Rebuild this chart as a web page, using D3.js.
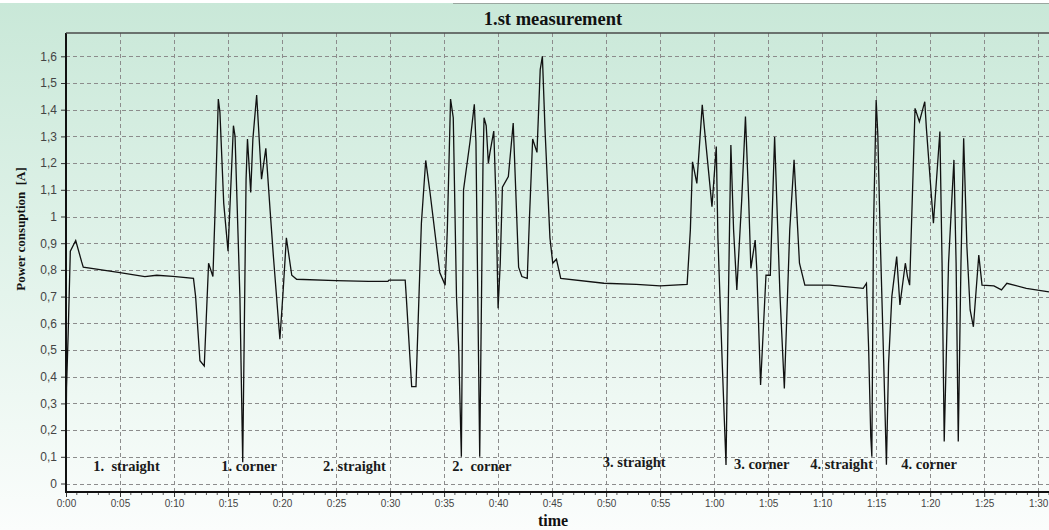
<!DOCTYPE html>
<html>
<head>
<meta charset="utf-8">
<script src="https://cdn.jsdelivr.net/npm/d3@7"></script>
<style>
  body { margin: 0; background: #fff; }
  svg { display: block; }
</style>
</head>
<body>
<svg id="chart"></svg>
<script>
// ------ Data (time in seconds, current in A)
var timeSec = [0, 0.05, 0.2, 0.4, 0.9, 1.45, 1.6, 5.0, 7.3, 8.4, 9.9, 11.8, 12.0, 12.4, 12.8, 13.2, 13.6, 13.8, 14.1, 14.25,
	14.6, 15.0, 15.5, 15.65, 16.1, 16.36, 16.67, 16.8, 17.1, 17.3, 17.65, 18.1, 18.5, 18.9, 19.2, 19.8, 20.1, 20.4, 20.9, 21.35,
	25, 28, 29.8, 29.9, 31.4, 31.5, 32.0, 32.4, 32.9, 33.3, 33.7, 34.6, 35.1, 35.3, 35.6, 35.85, 36.15, 36.35, 36.6, 36.8,
	37.4, 37.8, 37.95, 38.3, 38.6, 38.7, 38.9, 39.1, 39.25, 39.6, 39.8, 40.0, 40.2, 40.4, 40.95, 41.4, 41.9, 42.2, 42.7, 42.9,
	43.2, 43.6, 43.9, 44.1, 44.35, 44.8, 45.06, 45.4, 45.8, 49.8, 52.8, 55.0, 57.5, 57.8, 58.0, 58.4, 58.9, 59.1, 59.8, 60.2,
	60.35, 60.75, 61.1, 61.3, 61.55, 61.8, 62.1, 62.55, 62.9, 63.2, 63.4, 63.8, 63.95, 64.3, 64.8, 65.2, 65.6, 66.1, 66.5, 67.0,
	67.4, 67.9, 68.4, 70.7, 73.8, 74.1, 74.3, 74.5, 74.6, 74.75, 75.0, 75.15, 75.4, 75.7, 75.95, 76.15, 76.45, 76.9, 77.2, 77.7,
	77.9, 78.1, 78.6, 79.0, 79.5, 79.65, 80.3, 80.9, 81.1, 81.3, 81.7, 82.0, 82.2, 82.4, 82.6, 82.85, 83.1, 83.4, 83.7, 84.0,
	84.5, 84.8, 85.9, 86.6, 87.1, 88.9, 91.0];
var powerA = [0.15, 0.36, 0.56, 0.87, 0.91, 0.83, 0.81, 0.79, 0.775, 0.78, 0.776, 0.768, 0.70, 0.46, 0.44, 0.825, 0.775, 1.02, 1.44, 1.39,
	1.05, 0.87, 1.34, 1.30, 0.70, 0.08, 1.14, 1.29, 1.09, 1.29, 1.455, 1.14, 1.255, 1.02, 0.85, 0.54, 0.72, 0.92, 0.78, 0.765,
	0.76, 0.757, 0.757, 0.762, 0.762, 0.70, 0.363, 0.363, 0.975, 1.21, 1.09, 0.79, 0.743, 0.95, 1.44, 1.37, 0.70, 0.51, 0.10, 1.10,
	1.28, 1.42, 1.28, 0.10, 1.19, 1.37, 1.34, 1.20, 1.24, 1.32, 1.07, 0.656, 0.825, 1.11, 1.15, 1.35, 0.81, 0.775, 0.768, 0.99,
	1.29, 1.24, 1.55, 1.60, 1.32, 0.92, 0.825, 0.84, 0.768, 0.75, 0.746, 0.74, 0.746, 0.95, 1.205, 1.124, 1.418, 1.33, 1.037, 1.262,
	0.92, 0.45, 0.069, 0.64, 1.268, 0.95, 0.725, 1.06, 1.374, 1.06, 0.806, 0.912, 0.80, 0.369, 0.78, 0.78, 1.299, 0.70, 0.356, 0.95,
	1.212, 0.825, 0.743, 0.743, 0.731, 0.75, 0.51, 0.175, 0.10, 0.95, 1.436, 1.31, 0.887, 0.45, 0.07, 0.45, 0.70, 0.85, 0.669, 0.825,
	0.775, 0.743, 1.405, 1.355, 1.43, 1.33, 0.975, 1.318, 0.825, 0.157, 0.825, 1.06, 1.212, 0.825, 0.157, 0.825, 1.293, 0.887, 0.65, 0.587,
	0.856, 0.743, 0.74, 0.725, 0.75, 0.731, 0.718];

// ------ Section labels written in the plot
var sectionLabels = ["1.  straight", "1. corner", "2. straight", "2.  corner", "3. straight", "3. corner", "4. straight", "4. corner"];
var sectionTimes  = [5.6, 16.95, 26.7, 38.5, 52.6, 64.4, 71.8, 79.9];
var sectionValues = [0.045, 0.045, 0.045, 0.045, 0.06, 0.055, 0.055, 0.055];

// ------ Ticks
var xTickValues = d3.range(0, 91, 5);
var xMinorValues = d3.range(0, 92, 1);
var yTickValues = d3.range(0, 17).map(d => d / 10);

// ------ Sizes
var width = 1049, height = 530;
var margin = {top: 33, right: 0, bottom: 38, left: 66};

var svg = d3.select("#chart").attr("width", width).attr("height", height);

// ------ Background gradient
var defs = svg.append("defs");
var grad = defs.append("linearGradient").attr("id", "bg")
	.attr("x1", 0).attr("y1", 0).attr("x2", 0).attr("y2", 1);
grad.append("stop").attr("offset", "0%").attr("stop-color", "#c9e8d8");
grad.append("stop").attr("offset", "55%").attr("stop-color", "#e4f4ec");
grad.append("stop").attr("offset", "100%").attr("stop-color", "#fbfdfc");

svg.append("rect").attr("x", 0).attr("y", 3).attr("width", width).attr("height", height - 3)
	.style("fill", "url(#bg)");

// title band line
svg.append("line").attr("x1", 453).attr("x2", width).attr("y1", 3.5).attr("y2", 3.5)
	.style("stroke", "#9aa7a0").style("stroke-width", 1);

// ------ Scales
var xScale = d3.scaleLinear().domain([0, 91]).range([margin.left, width - margin.right]);
var yScale = d3.scaleLinear().domain([0, 1.6]).range([483.5, 56.3]);
var plotBottom = height - margin.bottom;

// ------ Grid
svg.append("g").attr("class", "grid")
	.selectAll("line.h").data(yTickValues).enter().append("line")
	.attr("x1", margin.left).attr("x2", width)
	.attr("y1", d => Math.round(yScale(d)) + 0.5).attr("y2", d => Math.round(yScale(d)) + 0.5)
	.style("stroke", "#8c8c8c").style("stroke-width", 1).style("stroke-dasharray", "4,3");

svg.append("g").attr("class", "grid")
	.selectAll("line.v").data(xTickValues.filter(d => d > 0)).enter().append("line")
	.attr("x1", d => Math.round(xScale(d)) + 0.5).attr("x2", d => Math.round(xScale(d)) + 0.5)
	.attr("y1", margin.top).attr("y2", plotBottom)
	.style("stroke", "#8c8c8c").style("stroke-width", 1).style("stroke-dasharray", "4,3");

// ------ Axes
var xAxis = d3.axisBottom(xScale).tickValues(xTickValues).tickSize(5).tickPadding(3)
	.tickFormat(d => Math.floor(d / 60) + ":" + d3.format("02d")(d % 60));
var gx = svg.append("g").attr("class", "axis xAxis")
	.attr("transform", "translate(0," + plotBottom + ")")
	.call(xAxis);
gx.select(".domain").remove();
gx.selectAll("line").style("stroke", "#333");
gx.selectAll("text").style("font-family", "'Liberation Sans', Arial, sans-serif")
	.style("font-size", "10px").style("fill", "#444");

// minor ticks every second
svg.append("g").selectAll("line").data(xMinorValues.filter(d => d % 5 != 0)).enter().append("line")
	.attr("x1", d => xScale(d)).attr("x2", d => xScale(d))
	.attr("y1", plotBottom).attr("y2", plotBottom + 3)
	.style("stroke", "#555").style("stroke-width", 1);

var yAxis = d3.axisLeft(yScale).tickValues(yTickValues).tickSize(5).tickPadding(4)
	.tickFormat(d => d3.format("~g")(d).replace(".", ","));
var gy = svg.append("g").attr("class", "axis yAxis")
	.attr("transform", "translate(" + margin.left + ",0)")
	.call(yAxis);
gy.select(".domain").remove();
gy.selectAll("line").style("stroke", "#333");
gy.selectAll("text").style("font-family", "'Liberation Sans', Arial, sans-serif")
	.style("font-size", "12px").style("fill", "#444");

// axis frame lines
svg.append("line").attr("x1", margin.left).attr("x2", width).attr("y1", plotBottom).attr("y2", plotBottom)
	.style("stroke", "#111").style("stroke-width", 2);
svg.append("line").attr("x1", margin.left).attr("x2", margin.left).attr("y1", margin.top).attr("y2", plotBottom + 1)
	.style("stroke", "#111").style("stroke-width", 2);
svg.append("line").attr("x1", margin.left).attr("x2", width).attr("y1", margin.top).attr("y2", margin.top)
	.style("stroke", "#4a4a4a").style("stroke-width", 1.5);

// ------ Line
var points = timeSec.map((t, i) => ({t: t, v: powerA[i]}));
var line = d3.line().x(d => xScale(d.t)).y(d => yScale(d.v));
svg.append("path").datum(points)
	.attr("d", line)
	.style("fill", "none").style("stroke", "#111").style("stroke-width", 1.3)
	.style("stroke-linejoin", "miter");

// ------ Section labels
svg.append("g").selectAll("text").data(sectionLabels).enter().append("text")
	.attr("x", (d, i) => xScale(sectionTimes[i]))
	.attr("y", (d, i) => yScale(sectionValues[i]))
	.attr("text-anchor", "middle")
	.style("white-space", "pre")
	.style("font-family", "'Liberation Serif', 'Times New Roman', serif")
	.style("font-weight", "bold").style("font-size", "14.5px").style("fill", "#1a1a1a")
	.text(d => d);

// ------ Titles
svg.append("text").attr("x", 553).attr("y", 25).attr("text-anchor", "middle")
	.style("font-family", "'Liberation Serif', 'Times New Roman', serif")
	.style("font-weight", "bold").style("font-size", "18.5px").style("fill", "#111")
	.text("1.st measurement");

svg.append("text").attr("x", 553).attr("y", 526).attr("text-anchor", "middle")
	.style("font-family", "'Liberation Serif', 'Times New Roman', serif")
	.style("font-weight", "bold").style("font-size", "16px").style("fill", "#111")
	.text("time");

svg.append("text").attr("transform", "translate(25,229) rotate(-90)").attr("text-anchor", "middle")
	.style("white-space", "pre")
	.style("font-family", "'Liberation Serif', 'Times New Roman', serif")
	.style("font-weight", "bold").style("font-size", "13px").style("fill", "#111")
	.text("Power consuption  [A]");
</script>
</body>
</html>
